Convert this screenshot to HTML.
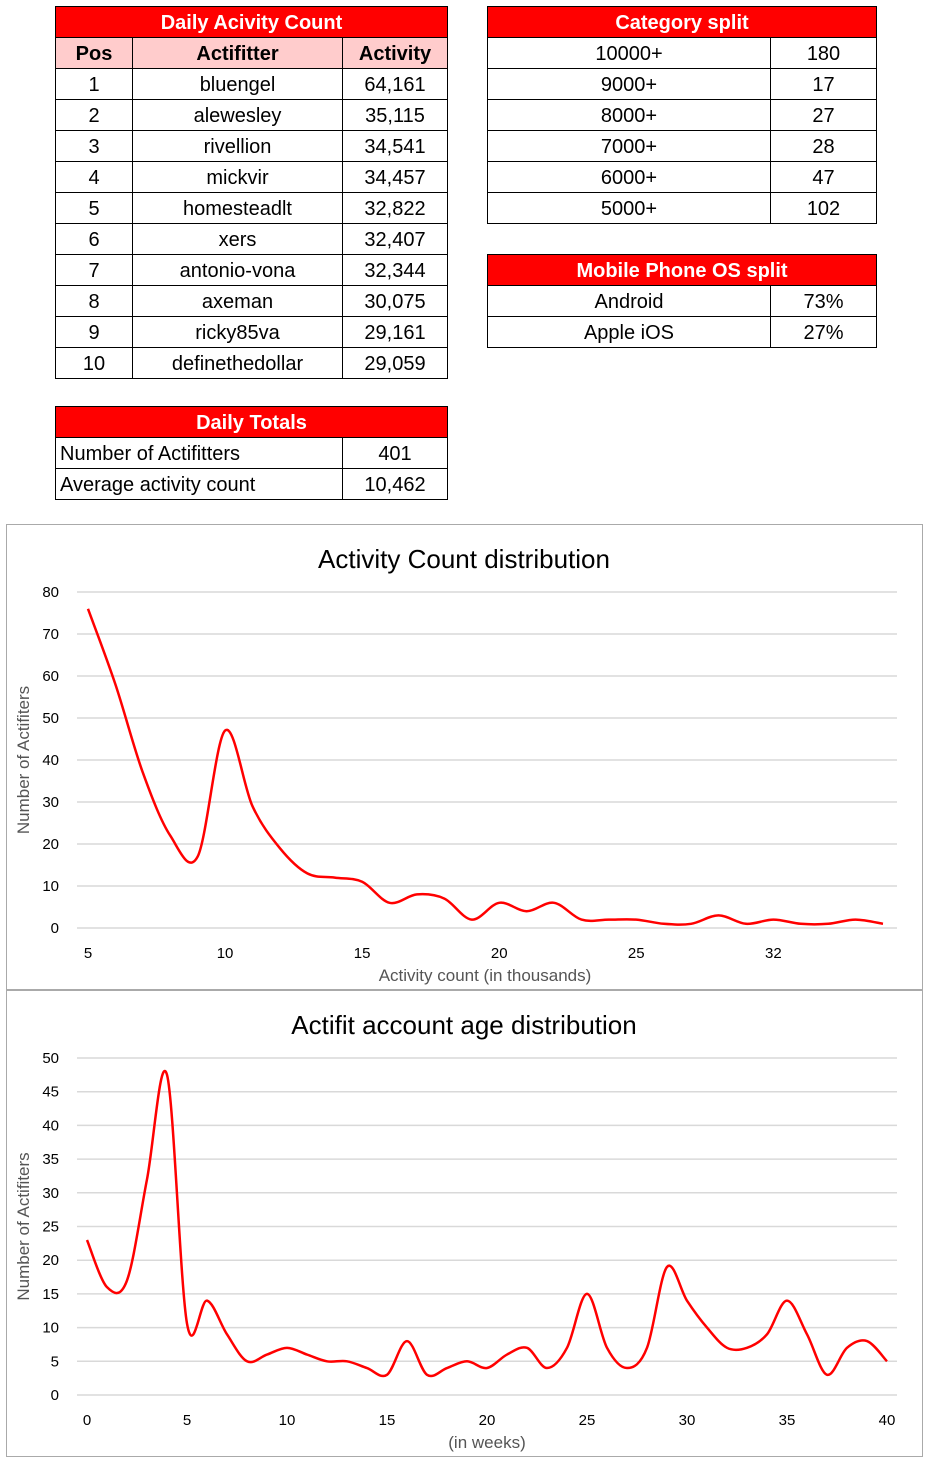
<!DOCTYPE html>
<html><head><meta charset="utf-8">
<style>
body{margin:0;width:932px;height:1457px;background:#fff;position:relative;font-family:"Liberation Sans",sans-serif;overflow:hidden}
table{position:absolute;border-collapse:collapse;font-size:20px;color:#000}
td{border:1px solid #000;padding:2px 0 0 0;height:28px;text-align:center;line-height:28px;vertical-align:middle}
td.t{background:#ff0000;color:#fff;font-weight:bold}
td.h{background:#ffcccc;font-weight:bold}
td.l{text-align:left;padding-left:4px}
.chart{position:absolute;left:6px;width:917px;height:466px;border:1px solid #aaa;box-sizing:border-box}
</style></head><body>
<table style="left:55px;top:6px;width:393px">
<colgroup><col style="width:77px"><col style="width:210px"><col style="width:105px"></colgroup>
<tr><td class="t" colspan="3">Daily Acivity Count</td></tr>
<tr><td class="h">Pos</td><td class="h">Actifitter</td><td class="h">Activity</td></tr>
<tr><td>1</td><td>bluengel</td><td>64,161</td></tr>
<tr><td>2</td><td>alewesley</td><td>35,115</td></tr>
<tr><td>3</td><td>rivellion</td><td>34,541</td></tr>
<tr><td>4</td><td>mickvir</td><td>34,457</td></tr>
<tr><td>5</td><td>homesteadlt</td><td>32,822</td></tr>
<tr><td>6</td><td>xers</td><td>32,407</td></tr>
<tr><td>7</td><td>antonio-vona</td><td>32,344</td></tr>
<tr><td>8</td><td>axeman</td><td>30,075</td></tr>
<tr><td>9</td><td>ricky85va</td><td>29,161</td></tr>
<tr><td>10</td><td>definethedollar</td><td>29,059</td></tr>
</table>
<table style="left:55px;top:406px;width:393px">
<colgroup><col style="width:287px"><col style="width:105px"></colgroup>
<tr><td class="t" colspan="2">Daily Totals</td></tr>
<tr><td class="l">Number of Actifitters</td><td>401</td></tr>
<tr><td class="l">Average activity count</td><td>10,462</td></tr>
</table>
<table style="left:487px;top:6px;width:390px">
<colgroup><col style="width:283px"><col style="width:106px"></colgroup>
<tr><td class="t" colspan="2">Category split</td></tr>
<tr><td>10000+</td><td>180</td></tr>
<tr><td>9000+</td><td>17</td></tr>
<tr><td>8000+</td><td>27</td></tr>
<tr><td>7000+</td><td>28</td></tr>
<tr><td>6000+</td><td>47</td></tr>
<tr><td>5000+</td><td>102</td></tr>
</table>
<table style="left:487px;top:254px;width:390px">
<colgroup><col style="width:283px"><col style="width:106px"></colgroup>
<tr><td class="t" colspan="2">Mobile Phone OS split</td></tr>
<tr><td>Android</td><td>73%</td></tr>
<tr><td>Apple iOS</td><td>27%</td></tr>
</table>

<div class="chart" style="top:524px"></div>
<div class="chart" style="top:990px;height:467px"></div>
<svg id="svg" width="932" height="1457" style="position:absolute;left:0;top:0" font-family="Liberation Sans, sans-serif"></svg>
<script>
const c1Labels=["5","6","7","8","9","10","11","12","13","14","15","16","17","18","19","20","21","22","23","24","25","26","27","28","29","32","33","34","35","36"];
const c1Values=[76,58,37,22,17,47,29,19,13,12,11,6,8,7,2,6,4,6,2,2,2,1,1,3,1,2,1,1,2,1];
const c1YTicks=[0,10,20,30,40,50,60,70,80];
const c2Weeks=[0,1,2,3,4,5,6,7,8,9,10,11,12,13,14,15,16,17,18,19,20,21,22,23,24,25,26,27,28,29,30,31,32,33,34,35,36,37,38,39,40];
const c2Values=[23,16,17,32,47.5,10.6,14,9,5,6,7,6,5,5,4,3,8,3,4,5,4,6,7,4,7,15,7,4,7,19,14,10,7,7,9,14,9,3,7,8,5];
const c2YTicks=[0,5,10,15,20,25,30,35,40,45,50];
const c2XTicks=[0,5,10,15,20,25,30,35,40];
const NS="http://www.w3.org/2000/svg";
const svg=document.getElementById('svg');
function mk(tag,attrs,txt){const e=document.createElementNS(NS,tag);for(const k in attrs)e.setAttribute(k,attrs[k]);if(txt!==undefined)e.textContent=txt;svg.appendChild(e);return e;}
function smooth(pts){let d="M"+pts[0][0]+","+pts[0][1];for(let i=0;i<pts.length-1;i++){const p0=pts[i-1]||pts[i],p1=pts[i],p2=pts[i+1],p3=pts[i+2]||p2;
d+=" C"+(p1[0]+(p2[0]-p0[0])/6)+","+(p1[1]+(p2[1]-p0[1])/6)+" "+(p2[0]-(p3[0]-p1[0])/6)+","+(p2[1]-(p3[1]-p1[1])/6)+" "+p2[0]+","+p2[1];}return d;}
function chart(o){
  const y=v=>o.y0-(v-o.ymin)/(o.ymax-o.ymin)*(o.y0-o.y1);
  o.yticks.forEach(t=>{
    const g=mk('line',{x1:77,x2:897,y1:y(t),y2:y(t),stroke:'#d9d9d9','stroke-width':1.5});
    
    
    const l=mk('text',{x:59,y:y(t)+5,'font-size':15,'text-anchor':'end',fill:'#000'},t);
    
    
  });
  o.xticks.forEach(([xv,lab])=>{
    const l=mk('text',{x:o.x(xv),y:o.y0+30,'font-size':15,'text-anchor':'middle',fill:'#000'},lab);
    
    
  });
  const pts=o.values.map((v,i)=>[o.x(o.xs[i]),y(v)]);
  const p=mk('path',{d:smooth(pts),fill:'none',stroke:'#ff0000','stroke-width':2.5,'stroke-linejoin':'round'});
  
  
  const t=mk('text',{x:464,y:o.titleY,'font-size':26,'text-anchor':'middle',fill:'#000'},o.title);
  
  
  const yt=mk('text',{x:0,y:0,'font-size':17,'text-anchor':'middle',fill:'#555',transform:'translate(29,'+((o.y0+o.y1)/2)+') rotate(-90)'},'Number of Actifiters');
  
  
  const xt=mk('text',{x:o.xtX,y:o.y0+53,'font-size':17,'text-anchor':'middle',fill:'#555'},o.xtitle);
  
  
}
const idx1=c1Labels.map((_,i)=>i);
chart({y0:928,y1:592,ymin:0,ymax:80,yticks:c1YTicks,values:c1Values,xs:idx1,
  x:i=>88+i*(883-88)/(c1Labels.length-1),
  xticks:idx1.filter(i=>i%5===0).map(i=>[i,c1Labels[i]]),
  title:'Activity Count distribution',titleY:568,xtitle:'Activity count (in thousands)',xtX:485});
chart({y0:1395,y1:1058,ymin:0,ymax:50,yticks:c2YTicks,values:c2Values,xs:c2Weeks,
  x:w=>87+w*(887-87)/40,
  xticks:c2XTicks.map(w=>[w,String(w)]),
  title:'Actifit account age distribution',titleY:1034,xtitle:'(in weeks)',xtX:487});
</script>
</body></html>
